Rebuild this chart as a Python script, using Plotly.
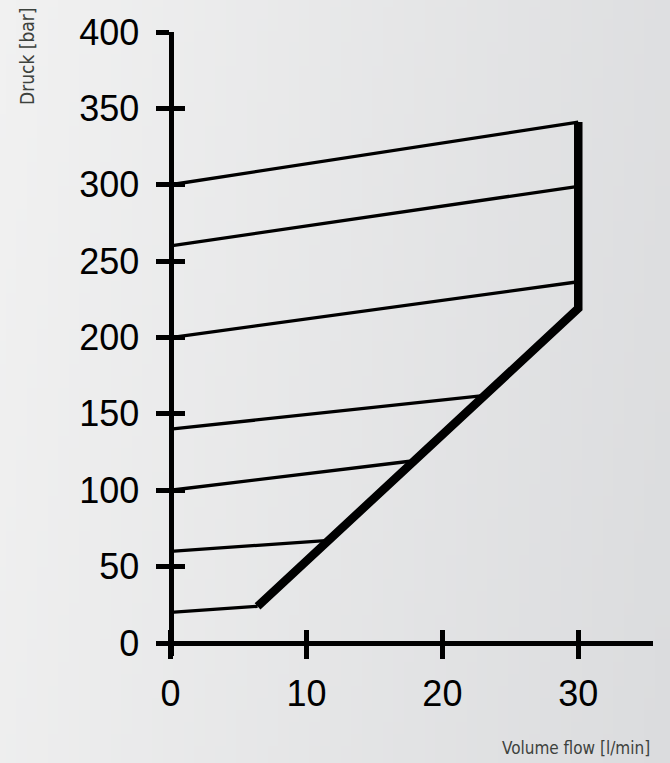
import base64
import struct
import zlib

import plotly.graph_objects as go

# ---------------- data ----------------
line_flow_start = [0, 0, 0, 0, 0, 0, 0]
line_pressure_start = [20, 60, 100, 140, 200, 260, 300]
line_flow_end = [6.4, 11.4, 17.6, 23.0, 30, 30, 30]
line_pressure_end = [24, 67, 119, 162, 236.5, 299, 341]

limit_flow = [6.4, 30, 30]
limit_pressure = [24, 219, 341]

x_ticks = [0, 10, 20, 30]
y_ticks = [0, 50, 100, 150, 200, 250, 300, 350, 400]

x_title = "Volume flow [l/min]"
y_title = "Druck [bar]"

# ---------------- layout constants ----------------
W, H = 670, 763
ML, MR, MT, MB = 157, 17, 32, 107
X_RANGE = [-1.0, 35.5]
Y_RANGE = [-8.5, 400]
PW = W - ML - MR
PH = H - MT - MB

x0_pos = (0 - Y_RANGE[0]) / (Y_RANGE[1] - Y_RANGE[0])  # where x axis sits (y=0)
y0_pos = (0 - X_RANGE[0]) / (X_RANGE[1] - X_RANGE[0])  # where y axis sits (x=0)


# ---------------- gradient background image ----------------
def gradient_png(w, h):
    c_left = (241, 241, 241)
    c_right = (219, 220, 222)
    rows = []
    for j in range(h):
        row = bytearray([0])
        for i in range(w):
            t = 0.85 * i / (w - 1) + 0.15 * j / (h - 1)
            t = min(max(t, 0), 1)
            for k in range(3):
                row.append(int(round(c_left[k] + (c_right[k] - c_left[k]) * t)))
        rows.append(bytes(row))
    raw = b"".join(rows)

    def chunk(tag, data):
        return (struct.pack(">I", len(data)) + tag + data
                + struct.pack(">I", zlib.crc32(tag + data) & 0xFFFFFFFF))

    png = (b"\x89PNG\r\n\x1a\n"
           + chunk(b"IHDR", struct.pack(">IIBBBBB", w, h, 8, 2, 0, 0, 0))
           + chunk(b"IDAT", zlib.compress(raw, 9))
           + chunk(b"IEND", b""))
    return "data:image/png;base64," + base64.b64encode(png).decode()


bg = gradient_png(64, 64)

fig = go.Figure()

# thin characteristic lines
for xs, ys, xe, ye in zip(line_flow_start, line_pressure_start,
                          line_flow_end, line_pressure_end):
    fig.add_trace(go.Scatter(x=[xs, xe], y=[ys, ye], mode="lines",
                             line=dict(color="black", width=3.3),
                             hoverinfo="skip", showlegend=False))

# thick limit line
fig.add_trace(go.Scatter(x=limit_flow, y=limit_pressure, mode="lines",
                         line=dict(color="black", width=8.5),
                         hoverinfo="skip", showlegend=False))

# invisible traces so the overlay axes (inner half of the crossing ticks) exist
fig.add_trace(go.Scatter(x=[], y=[], xaxis="x2", yaxis="y",
                         showlegend=False, hoverinfo="skip"))
fig.add_trace(go.Scatter(x=[], y=[], xaxis="x", yaxis="y2",
                         showlegend=False, hoverinfo="skip"))

tick_font = dict(family="Liberation Sans, Arial, sans-serif", size=36, color="black")
title_family = "Liberation Sans Narrow, DejaVu Sans Condensed, Arial Narrow, sans-serif"

common = dict(showgrid=False, zeroline=False, linecolor="black",
              tickcolor="black", tickwidth=4.5, ticklen=13, fixedrange=True)

fig.update_layout(
    width=W, height=H,
    margin=dict(l=ML, r=MR, t=MT, b=MB),
    paper_bgcolor="#e8e8e9",
    plot_bgcolor="rgba(0,0,0,0)",
    images=[dict(source=bg, xref="paper", yref="paper",
                 x=-ML / PW, y=1 + MT / PH, sizex=W / PW, sizey=H / PH,
                 xanchor="left", yanchor="top", sizing="stretch",
                 layer="below")],
    xaxis=dict(range=X_RANGE, anchor="free", position=x0_pos,
               showline=True, linewidth=5, ticks="outside",
               tickvals=x_ticks, ticktext=[str(v) for v in x_ticks],
               tickfont=tick_font, ticklabelstandoff=4, **common),
    xaxis2=dict(range=X_RANGE, overlaying="x", anchor="free", position=x0_pos,
                showline=False, ticks="inside", tickvals=x_ticks,
                showticklabels=False, **common),
    yaxis=dict(range=Y_RANGE, anchor="free", position=y0_pos,
               showline=True, linewidth=5, ticks="outside",
               tickvals=y_ticks, ticktext=[str(v) for v in y_ticks],
               tickfont=tick_font, ticklabelstandoff=9, **common),
    yaxis2=dict(range=Y_RANGE, overlaying="y", anchor="free", position=y0_pos,
                showline=False, ticks="inside", tickvals=y_ticks,
                showticklabels=False, **common),
    annotations=[
        dict(text=y_title, xref="paper", yref="paper",
             x=(27 - ML) / PW, y=(H - MB - 57) / PH, textangle=-90,
             xanchor="center", yanchor="middle", showarrow=False,
             font=dict(family=title_family, size=19, color="#3d423d")),
        dict(text=x_title, xref="paper", yref="paper",
             x=(652 - ML) / PW, y=(H - MB - 748) / PH,
             xanchor="right", yanchor="middle", showarrow=False,
             font=dict(family=title_family, size=17, color="#3d423d")),
    ],
)

fig.write_html(
    "out.html",
    config={"displayModeBar": False},
    post_script="document.body.style.margin='0';document.body.style.overflow='hidden';",
)
